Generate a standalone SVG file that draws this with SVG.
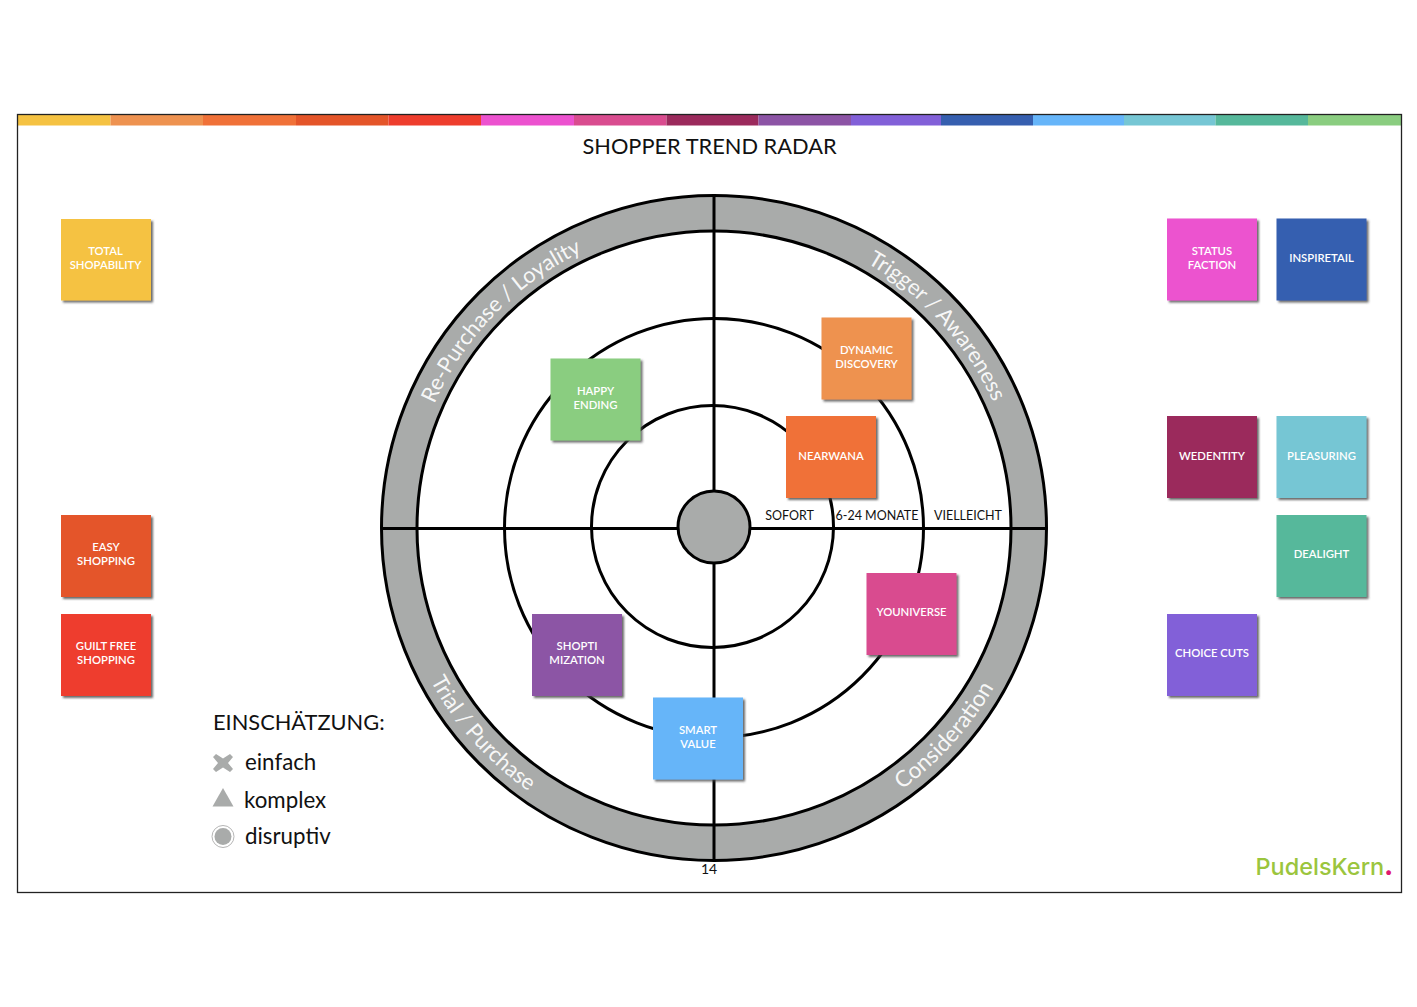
<svg xmlns="http://www.w3.org/2000/svg" xmlns:xlink="http://www.w3.org/1999/xlink" width="1417" height="1007" viewBox="0 0 1417 1007">
<style>
text{font-family:"Lato","Open Sans","Liberation Sans",sans-serif;fill:#111}
.n rect{filter:url(#sh);stroke:none}
.n text{fill:#fff;font-size:11.300px;font-weight:600;text-anchor:middle;transform:translateY(-.7px)}
.ring{fill:none;stroke:#000;stroke-width:3}
.thin{fill:none;stroke:#000;stroke-width:3}
.arc{fill:#fff;font-size:22px;fill-opacity:.92}
.scale{font-size:12.500px;text-anchor:middle}
.leg{font-size:22.300px}
.ic{fill:#a9abaa}
</style>
<defs>
<filter id="sh" x="-10%" y="-10%" width="125%" height="125%"><feDropShadow dx="2" dy="2" stdDeviation="1" flood-color="#444" flood-opacity=".8"/></filter>
<path id="p1" d="M767.1 226.6A306 306 0 0 1 1018.8 501.3"/>
<path id="p2" d="M409.2 501.3A306 306 0 0 1 687.3 223.2"/>
<path id="p3" d="M392.2 539.2A322 322 0 0 0 669.2 846.9"/>
<path id="p4" d="M758.8 846.9A322 322 0 0 0 1035.8 539.2"/>
</defs>
<rect width="1417" height="1007" fill="#fff"/>
<g id="header">
<rect x="18" y="115" width="92.5" height="10.500" fill="#f5c242"/>
<rect x="110.500" y="115" width="92.500" height="10.500" fill="#ee9250"/>
<rect x="203" y="115" width="93" height="10.500" fill="#f07138"/>
<rect x="296" y="115" width="92.500" height="10.500" fill="#e45529"/>
<rect x="388.500" y="115" width="92.500" height="10.500" fill="#ee3d2d"/>
<rect x="481" y="115" width="93" height="10.500" fill="#ec52cf"/>
<rect x="574" y="115" width="92.500" height="10.500" fill="#d94c8f"/>
<rect x="666.500" y="115" width="92" height="10.500" fill="#9b2a5c"/>
<rect x="758.500" y="115" width="92.500" height="10.500" fill="#8c54a5"/>
<rect x="851" y="115" width="90" height="10.500" fill="#8260d8"/>
<rect x="941" y="115" width="92" height="10.500" fill="#365faf"/>
<rect x="1033" y="115" width="91" height="10.500" fill="#66b5f9"/>
<rect x="1124" y="115" width="91.500" height="10.500" fill="#76c6d4"/>
<rect x="1215.500" y="115" width="92.500" height="10.500" fill="#56b89b"/>
<rect x="1308" y="115" width="93" height="10.500" fill="#8acd80"/>
<rect x="17.500" y="114.500" width="1384" height="778" fill="none" stroke="#222" stroke-width="1.300"/>
<text x="709.500" y="153.700" font-size="21.800" text-anchor="middle">SHOPPER TREND RADAR</text>
</g>
<g id="radar">
<path fill="#a9abaa" fill-rule="evenodd" d="M381.500 528a332.500 332.500 0 1 0 665 0a332.500 332.500 0 1 0 -665 0ZM417 528a297 297 0 1 0 594 0a297 297 0 1 0 -594 0Z"/>
<circle class="ring" cx="714" cy="528" r="332.500"/>
<circle class="ring" cx="714" cy="528" r="297"/>
<circle class="ring" cx="714" cy="528" r="209.500"/>
<circle class="ring" cx="712.500" cy="526.500" r="121"/>
</g>
<g id="connectors">
<path class="thin" d="M381.500 528.500H1047M714 195.500V860.500"/>
</g>
<g id="hub"><circle cx="714" cy="527" r="36" fill="#a9abaa" stroke="#000" stroke-width="3"/></g>
<g id="band-labels">
<text class="arc"><textPath href="#p1" xlink:href="#p1" startOffset="50.500%" text-anchor="middle">Trigger / Awareness</textPath></text>
<text class="arc"><textPath href="#p2" xlink:href="#p2" startOffset="49%" text-anchor="middle">Re-Purchase / Loyality</textPath></text>
<text class="arc"><textPath href="#p3" xlink:href="#p3" startOffset="49.500%" text-anchor="middle">Trial / Purchase</textPath></text>
<text class="arc" style="font-size:22.600px"><textPath href="#p4" xlink:href="#p4" startOffset="50%" text-anchor="middle">Consideration</textPath></text>
</g>
<g id="scale">
<text class="scale" x="789.500" y="519.500">SOFORT</text>
<text class="scale" x="877" y="519.500">6-24 MONATE</text>
<text class="scale" x="968" y="519.500">VIELLEICHT</text>
</g>
<g id="total-shopability" class="n"><rect x="61" y="219" width="90" height="81.500" fill="#f5c242"/><text x="105.500" y="256">TOTAL</text><text x="105.500" y="270">SHOPABILITY</text></g>
<g id="easy-shopping" class="n"><rect x="61" y="515" width="90" height="82" fill="#e45529"/><text x="106" y="552">EASY</text><text x="106" y="566">SHOPPING</text></g>
<g id="guilt-free-shopping" class="n"><rect x="61" y="614" width="90" height="82" fill="#ee3d2d"/><text x="106" y="651">GUILT FREE</text><text x="106" y="665">SHOPPING</text></g>
<g id="status-faction" class="n"><rect x="1167" y="218.500" width="90" height="82" fill="#ec52cf"/><text x="1212" y="256">STATUS</text><text x="1212" y="270">FACTION</text></g>
<g id="inspiretail" class="n"><rect x="1276.500" y="218.500" width="90" height="82" fill="#365fb0"/><text x="1321.500" y="263">INSPIRETAIL</text></g>
<g id="wedentity" class="n"><rect x="1167" y="416" width="90" height="82" fill="#9b2a5c"/><text x="1212" y="461">WEDENTITY</text></g>
<g id="pleasuring" class="n"><rect x="1276.500" y="416" width="90" height="82" fill="#76c6d4"/><text x="1321.500" y="461">PLEASURING</text></g>
<g id="dealight" class="n"><rect x="1276.500" y="515" width="90" height="82" fill="#56b89b"/><text x="1321.500" y="559">DEALIGHT</text></g>
<g id="choice-cuts" class="n"><rect x="1167" y="614" width="90" height="82" fill="#8260d8"/><text x="1212" y="658">CHOICE CUTS</text></g>
<g id="happy-ending" class="n"><rect x="550.500" y="358.500" width="90" height="82" fill="#8acd80"/><text x="595.500" y="396">HAPPY</text><text x="595.500" y="410">ENDING</text></g>
<g id="dynamic-discovery" class="n"><rect x="821.500" y="317.500" width="90" height="82" fill="#ee9250"/><text x="866.500" y="355">DYNAMIC</text><text x="866.500" y="369">DISCOVERY</text></g>
<g id="nearwana" class="n"><rect x="786" y="416" width="90" height="82" fill="#f07138"/><text x="831" y="461">NEARWANA</text></g>
<g id="shoptimization" class="n"><rect x="532" y="614" width="90" height="82" fill="#8c54a5"/><text x="577" y="651">SHOPTI</text><text x="577" y="665">MIZATION</text></g>
<g id="smart-value" class="n"><rect x="653" y="697.500" width="90" height="82" fill="#66b5f9"/><text x="698" y="735">SMART</text><text x="698" y="749">VALUE</text></g>
<g id="youniverse" class="n"><rect x="866.500" y="573" width="90" height="82" fill="#d94c8f"/><text x="911.500" y="617">YOUNIVERSE</text></g>
<g id="legend">
<text x="213" y="730" font-size="21.800">EINSCHÄTZUNG:</text>
<path class="ic" d="M216 754l7 4.500 7-4.500 3 3-5 6 5 6-3 3-7-4.500-7 4.500-3-3 5-6-5-6Z"/>
<text class="leg" x="245" y="770">einfach</text>
<path class="ic" d="M223 788L233.500 806.500H212.500Z"/>
<text class="leg" x="244" y="808">komplex</text>
<circle cx="223" cy="836.500" r="11" fill="#fff" stroke="#b5b5b5" stroke-width="1"/>
<circle class="ic" cx="223" cy="836.500" r="8.500"/>
<text class="leg" x="245" y="844">disruptiv</text>
</g>
<text id="page" x="709" y="873.500" font-size="14" text-anchor="middle">14</text>
<text id="logo" x="1255.500" y="875" font-size="23.500" style="font-family:Inter,Lato,sans-serif;font-weight:500;fill:#9bc53d">PudelsKern<tspan style="fill:#e0176f;font-weight:900">.</tspan></text>
</svg>
